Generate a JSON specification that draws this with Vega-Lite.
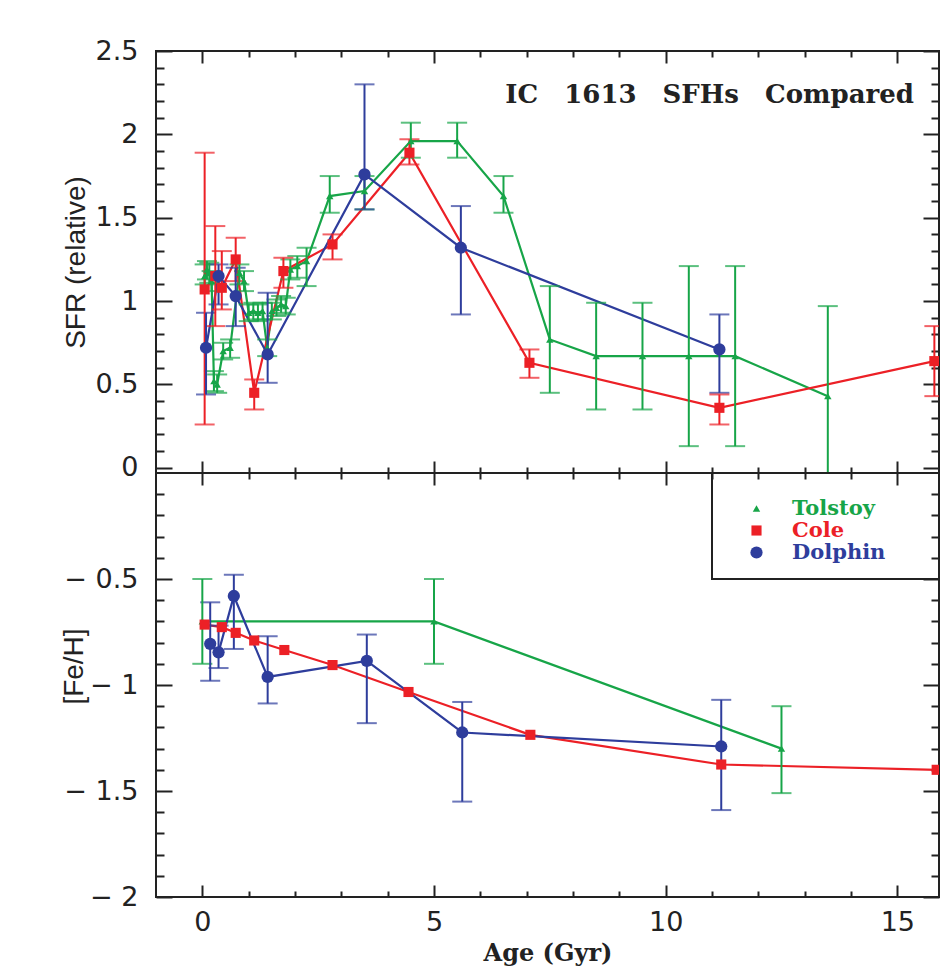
{
  "$schema": "https://vega.github.io/schema/vega-lite/v6.json",
  "autosize": {"type": "pad"},
  "padding": {"left": 59, "top": 36, "right": 8, "bottom": 4},
  "background": "white",
  "spacing": 0,
  "bounds": "flush",
  "config": {
    "view": {"stroke": "#222", "strokeWidth": 2},
    "axis": {
      "domain": false, "grid": false,
      "labelFont": "DejaVu Sans", "labelFontSize": 27, "labelColor": "#222",
      "tickColor": "#222", "tickWidth": 2,
      "titleColor": "#222"
    },
    "legend": {
      "orient": "none", "legendX": 590, "legendY": 25, "title": null, "padding": 0,
      "labelFont": "DejaVu Serif", "labelFontWeight": "bold", "labelFontSize": 21, "labelOffset": 25,
      "symbolSize": 130, "rowPadding": 0, "symbolStrokeWidth": 0, "symbolOpacity": 1
    }
  },
  "datasets": {
    "sfr": [
      {"series": "Tolstoy", "age": 0.05, "v": 1.15, "lo": 1.10, "hi": 1.22},
      {"series": "Tolstoy", "age": 0.10, "v": 1.19, "lo": 1.13, "hi": 1.24},
      {"series": "Tolstoy", "age": 0.15, "v": 1.17, "lo": 1.11, "hi": 1.23},
      {"series": "Tolstoy", "age": 0.20, "v": 1.12, "lo": 1.06, "hi": 1.18},
      {"series": "Tolstoy", "age": 0.25, "v": 0.52, "lo": 0.46, "hi": 0.58},
      {"series": "Tolstoy", "age": 0.32, "v": 0.50, "lo": 0.45, "hi": 0.56},
      {"series": "Tolstoy", "age": 0.45, "v": 0.70, "lo": 0.65, "hi": 0.75},
      {"series": "Tolstoy", "age": 0.60, "v": 0.72, "lo": 0.66, "hi": 0.77},
      {"series": "Tolstoy", "age": 0.80, "v": 1.17, "lo": 1.10, "hi": 1.22},
      {"series": "Tolstoy", "age": 0.90, "v": 1.12, "lo": 1.06, "hi": 1.18},
      {"series": "Tolstoy", "age": 1.00, "v": 0.93, "lo": 0.88, "hi": 0.98},
      {"series": "Tolstoy", "age": 1.10, "v": 0.94, "lo": 0.89, "hi": 0.99},
      {"series": "Tolstoy", "age": 1.20, "v": 0.93, "lo": 0.88, "hi": 0.98},
      {"series": "Tolstoy", "age": 1.30, "v": 0.94, "lo": 0.89, "hi": 0.99},
      {"series": "Tolstoy", "age": 1.40, "v": 0.72, "lo": 0.67, "hi": 0.77},
      {"series": "Tolstoy", "age": 1.50, "v": 0.94, "lo": 0.89, "hi": 0.99},
      {"series": "Tolstoy", "age": 1.60, "v": 0.96, "lo": 0.91, "hi": 1.01},
      {"series": "Tolstoy", "age": 1.70, "v": 0.98, "lo": 0.93, "hi": 1.03},
      {"series": "Tolstoy", "age": 1.80, "v": 0.97, "lo": 0.92, "hi": 1.02},
      {"series": "Tolstoy", "age": 1.90, "v": 1.19, "lo": 1.13, "hi": 1.25},
      {"series": "Tolstoy", "age": 2.05, "v": 1.21, "lo": 1.14, "hi": 1.27},
      {"series": "Tolstoy", "age": 2.25, "v": 1.24, "lo": 1.09, "hi": 1.32},
      {"series": "Tolstoy", "age": 2.75, "v": 1.63, "lo": 1.53, "hi": 1.75},
      {"series": "Tolstoy", "age": 3.50, "v": 1.66, "lo": 1.55, "hi": 1.75},
      {"series": "Tolstoy", "age": 4.50, "v": 1.96, "lo": 1.86, "hi": 2.07},
      {"series": "Tolstoy", "age": 5.50, "v": 1.96, "lo": 1.86, "hi": 2.07},
      {"series": "Tolstoy", "age": 6.50, "v": 1.63, "lo": 1.53, "hi": 1.75},
      {"series": "Tolstoy", "age": 7.50, "v": 0.77, "lo": 0.45, "hi": 1.09},
      {"series": "Tolstoy", "age": 8.50, "v": 0.67, "lo": 0.35, "hi": 0.99},
      {"series": "Tolstoy", "age": 9.50, "v": 0.67, "lo": 0.35, "hi": 0.99},
      {"series": "Tolstoy", "age": 10.50, "v": 0.67, "lo": 0.13, "hi": 1.21},
      {"series": "Tolstoy", "age": 11.50, "v": 0.67, "lo": 0.13, "hi": 1.21},
      {"series": "Tolstoy", "age": 13.50, "v": 0.43, "lo": -0.1, "hi": 0.97},
      {"series": "Cole", "age": 0.05, "v": 1.07, "lo": 0.26, "hi": 1.89},
      {"series": "Cole", "age": 0.28, "v": 1.15, "lo": 0.85, "hi": 1.45},
      {"series": "Cole", "age": 0.42, "v": 1.08, "lo": 0.95, "hi": 1.30},
      {"series": "Cole", "age": 0.72, "v": 1.25, "lo": 1.12, "hi": 1.38},
      {"series": "Cole", "age": 1.12, "v": 0.45, "lo": 0.35, "hi": 0.53},
      {"series": "Cole", "age": 1.75, "v": 1.18, "lo": 1.08, "hi": 1.26},
      {"series": "Cole", "age": 2.81, "v": 1.34, "lo": 1.25, "hi": 1.40},
      {"series": "Cole", "age": 4.47, "v": 1.89, "lo": 1.82, "hi": 1.97},
      {"series": "Cole", "age": 7.06, "v": 0.63, "lo": 0.54, "hi": 0.71},
      {"series": "Cole", "age": 11.16, "v": 0.36, "lo": 0.26, "hi": 0.44},
      {"series": "Cole", "age": 15.8, "v": 0.64, "lo": 0.43, "hi": 0.85},
      {"series": "Dolphin", "age": 0.08, "v": 0.72, "lo": 0.44, "hi": 0.93},
      {"series": "Dolphin", "age": 0.35, "v": 1.15, "lo": 0.98, "hi": 1.22},
      {"series": "Dolphin", "age": 0.72, "v": 1.03, "lo": 0.85, "hi": 1.20},
      {"series": "Dolphin", "age": 1.41, "v": 0.68, "lo": 0.51, "hi": 1.05},
      {"series": "Dolphin", "age": 3.50, "v": 1.76, "lo": 1.55, "hi": 2.30},
      {"series": "Dolphin", "age": 5.58, "v": 1.32, "lo": 0.92, "hi": 1.57},
      {"series": "Dolphin", "age": 11.16, "v": 0.71, "lo": 0.45, "hi": 0.92}
    ],
    "feh": [
      {"series": "Tolstoy", "age": 0.0, "v": -0.70, "lo": -0.90, "hi": -0.50},
      {"series": "Tolstoy", "age": 5.0, "v": -0.70, "lo": -0.90, "hi": -0.50},
      {"series": "Tolstoy", "age": 12.5, "v": -1.30, "lo": -1.51, "hi": -1.10},
      {"series": "Cole", "age": 0.05, "v": -0.715, "lo": null, "hi": null},
      {"series": "Cole", "age": 0.42, "v": -0.727, "lo": null, "hi": null},
      {"series": "Cole", "age": 0.72, "v": -0.754, "lo": null, "hi": null},
      {"series": "Cole", "age": 1.12, "v": -0.79, "lo": null, "hi": null},
      {"series": "Cole", "age": 1.77, "v": -0.835, "lo": null, "hi": null},
      {"series": "Cole", "age": 2.81, "v": -0.906, "lo": null, "hi": null},
      {"series": "Cole", "age": 4.45, "v": -1.033, "lo": null, "hi": null},
      {"series": "Cole", "age": 7.08, "v": -1.235, "lo": null, "hi": null},
      {"series": "Cole", "age": 11.2, "v": -1.375, "lo": null, "hi": null},
      {"series": "Cole", "age": 15.85, "v": -1.40, "lo": null, "hi": null},
      {"series": "Dolphin", "age": 0.17, "v": -0.806, "lo": -0.98, "hi": -0.61},
      {"series": "Dolphin", "age": 0.35, "v": -0.846, "lo": -0.92, "hi": -0.72},
      {"series": "Dolphin", "age": 0.68, "v": -0.58, "lo": -0.83, "hi": -0.48},
      {"series": "Dolphin", "age": 1.41, "v": -0.962, "lo": -1.087, "hi": -0.77},
      {"series": "Dolphin", "age": 3.55, "v": -0.886, "lo": -1.18, "hi": -0.762},
      {"series": "Dolphin", "age": 5.61, "v": -1.224, "lo": -1.55, "hi": -1.08},
      {"series": "Dolphin", "age": 11.2, "v": -1.29, "lo": -1.59, "hi": -1.07}
    ]
  },
  "resolve": {"scale": {"x": "shared", "y": "independent", "color": "independent", "shape": "independent", "size": "independent"}},
  "vconcat": [
    {
      "width": 783,
      "height": 422,
      "data": {"name": "sfr"},
      "title": {
        "text": "IC\u20031613\u2003SFHs\u2003Compared",
        "orient": "top", "anchor": "end", "frame": "group",
        "offset": -92, "dx": -25, "baseline": "alphabetic",
        "font": "DejaVu Serif", "fontWeight": "bold", "fontSize": 26, "color": "#222"
      },
      "resolve": {"axis": {"x": "independent", "y": "independent"}},
      "layer": [
        {
          "mark": {"type": "line", "strokeWidth": 2.2, "clip": true},
          "encoding": {
            "x": {"field": "age", "type": "quantitative",
              "scale": {"domain": [-1, 15.9], "nice": false, "zero": false},
              "axis": {"orient": "bottom", "values": [0,1,2,3,4,5,6,7,8,9,10,11,12,13,14,15], "labels": false, "title": null,
                "tickSize": {"condition": {"test": "datum.value % 5 === 0", "value": -12}, "value": -6}}},
            "y": {"field": "v", "type": "quantitative",
              "scale": {"domain": [-0.031, 2.5], "nice": false, "zero": false},
              "axis": {"orient": "left",
                "values": [0,0.1,0.2,0.3,0.4,0.5,0.6,0.7,0.8,0.9,1,1.1,1.2,1.3,1.4,1.5,1.6,1.7,1.8,1.9,2,2.1,2.2,2.3,2.4,2.5],
                "tickSize": {"condition": {"test": "abs(datum.value*2 - round(datum.value*2)) < 0.001", "value": -16}, "value": -8},
                "labelExpr": "abs(datum.value*2 - round(datum.value*2)) < 0.001 ? format(datum.value, '') : ''",
                "labelPadding": 34,
                "title": "SFR (relative)", "titleFont": "Liberation Sans", "titleFontSize": 28, "titleFontWeight": "normal",
                "titleX": -80, "titleY": 211, "titleAngle": -90, "titleBaseline": "middle", "titleAlign": "center"}},
            "color": {"field": "series", "type": "nominal",
              "scale": {"domain": ["Tolstoy", "Cole", "Dolphin"], "range": ["#17a548", "#ec2026", "#2e3d9c"]},
              "legend": null}
          }
        },
        {
          "mark": {"type": "errorbar", "ticks": true, "size": 20, "thickness": 2, "clip": true},
          "encoding": {
            "x": {"field": "age", "type": "quantitative",
              "axis": {"orient": "top", "values": [0,1,2,3,4,5,6,7,8,9,10,11,12,13,14,15], "labels": false, "title": null,
                "tickSize": {"condition": {"test": "datum.value % 5 === 0", "value": -12}, "value": -6}}},
            "y": {"field": "lo", "type": "quantitative",
              "axis": {"orient": "right",
                "values": [0,0.1,0.2,0.3,0.4,0.5,0.6,0.7,0.8,0.9,1,1.1,1.2,1.3,1.4,1.5,1.6,1.7,1.8,1.9,2,2.1,2.2,2.3,2.4,2.5],
                "tickSize": {"condition": {"test": "abs(datum.value*2 - round(datum.value*2)) < 0.001", "value": -16}, "value": -8},
                "labels": false, "title": null}},
            "y2": {"field": "hi"},
            "color": {"field": "series", "type": "nominal",
              "scale": {"domain": ["Tolstoy", "Cole", "Dolphin"], "range": ["#17a548", "#ec2026", "#2e3d9c"]},
              "legend": null}
          }
        },
        {
          "mark": {"type": "point", "filled": true, "opacity": 1, "clip": true},
          "encoding": {
            "x": {"field": "age", "type": "quantitative", "axis": null},
            "y": {"field": "v", "type": "quantitative", "axis": null},
            "color": {"field": "series", "type": "nominal",
              "scale": {"domain": ["Tolstoy", "Cole", "Dolphin"], "range": ["#17a548", "#ec2026", "#2e3d9c"]},
              "legend": null},
            "shape": {"field": "series", "type": "nominal",
              "scale": {"domain": ["Tolstoy", "Cole", "Dolphin"], "range": ["triangle-up", "square", "circle"]},
              "legend": null},
            "size": {"field": "series", "type": "ordinal",
              "scale": {"domain": ["Tolstoy", "Cole", "Dolphin"], "range": [55, 150, 110]},
              "legend": null}
          }
        }
      ]
    },
    {
      "width": 783,
      "height": 424,
      "data": {"name": "feh"},
      "resolve": {"axis": {"x": "independent", "y": "independent"}},
      "layer": [
        {
          "mark": {"type": "line", "strokeWidth": 2.2, "clip": true},
          "encoding": {
            "x": {"field": "age", "type": "quantitative",
              "scale": {"domain": [-1, 15.9], "nice": false, "zero": false},
              "axis": {"orient": "bottom", "values": [0,1,2,3,4,5,6,7,8,9,10,11,12,13,14,15],
                "tickSize": {"condition": {"test": "datum.value % 5 === 0", "value": -12}, "value": -6},
                "labelExpr": "datum.value % 5 === 0 ? format(datum.value, '') : ''",
                "labelPadding": 24,
                "title": "Age (Gyr)", "titleFont": "DejaVu Serif", "titleFontWeight": "bold", "titleFontSize": 24,
                "titleY": 63, "titleBaseline": "alphabetic"}},
            "y": {"field": "v", "type": "quantitative",
              "scale": {"domain": [-2, 0], "nice": false, "zero": false},
              "axis": {"orient": "left",
                "values": [-2,-1.9,-1.8,-1.7,-1.6,-1.5,-1.4,-1.3,-1.2,-1.1,-1,-0.9,-0.8,-0.7,-0.6,-0.5,-0.4,-0.3,-0.2,-0.1],
                "tickSize": {"condition": {"test": "abs(datum.value*2 - round(datum.value*2)) < 0.001", "value": -16}, "value": -8},
                "labelExpr": "abs(datum.value*2 - round(datum.value*2)) < 0.001 ? '\u2212 ' + format(abs(datum.value), '') : ''",
                "labelPadding": 34,
                "title": "[Fe/H]", "titleFont": "Liberation Sans", "titleFontSize": 28, "titleFontWeight": "normal",
                "titleX": -82, "titleY": 193, "titleAngle": -90, "titleBaseline": "middle", "titleAlign": "center"}},
            "color": {"field": "series", "type": "nominal",
              "scale": {"domain": ["Tolstoy", "Cole", "Dolphin"], "range": ["#17a548", "#ec2026", "#2e3d9c"]}}
          }
        },
        {
          "mark": {"type": "errorbar", "ticks": true, "size": 20, "thickness": 2, "clip": true},
          "encoding": {
            "x": {"field": "age", "type": "quantitative",
              "axis": {"orient": "top", "values": [0,1,2,3,4,5,6,7,8,9,10,11,12,13,14,15], "labels": false, "title": null,
                "tickSize": {"condition": {"test": "datum.value % 5 === 0", "value": -12}, "value": -6}}},
            "y": {"field": "lo", "type": "quantitative",
              "axis": {"orient": "right",
                "values": [-2,-1.9,-1.8,-1.7,-1.6,-1.5,-1.4,-1.3,-1.2,-1.1,-1,-0.9,-0.8,-0.7,-0.6,-0.5,-0.4,-0.3,-0.2,-0.1],
                "tickSize": {"condition": {"test": "abs(datum.value*2 - round(datum.value*2)) < 0.001", "value": -16}, "value": -8},
                "labels": false, "title": null}},
            "y2": {"field": "hi"},
            "color": {"field": "series", "type": "nominal",
              "scale": {"domain": ["Tolstoy", "Cole", "Dolphin"], "range": ["#17a548", "#ec2026", "#2e3d9c"]}}
          }
        },
        {
          "mark": {"type": "point", "filled": true, "opacity": 1, "clip": true},
          "encoding": {
            "x": {"field": "age", "type": "quantitative", "axis": null},
            "y": {"field": "v", "type": "quantitative", "axis": null},
            "color": {"field": "series", "type": "nominal",
              "scale": {"domain": ["Tolstoy", "Cole", "Dolphin"], "range": ["#17a548", "#ec2026", "#2e3d9c"]},
              "legend": {"labelColor": {"expr": "datum.value === 'Tolstoy' ? '#17a548' : datum.value === 'Cole' ? '#ec2026' : '#2e3d9c'"}}},
            "shape": {"field": "series", "type": "nominal",
              "scale": {"domain": ["Tolstoy", "Cole", "Dolphin"], "range": ["triangle-up", "square", "circle"]},
              "legend": {"labelColor": {"expr": "datum.value === 'Tolstoy' ? '#17a548' : datum.value === 'Cole' ? '#ec2026' : '#2e3d9c'"}}},
            "size": {"field": "series", "type": "ordinal",
              "scale": {"domain": ["Tolstoy", "Cole", "Dolphin"], "range": [55, 150, 110]},
              "legend": null}
          }
        },
        {
          "mark": {"type": "rect", "fill": null, "stroke": "#222", "strokeWidth": 1.5, "clip": true},
          "encoding": {
            "x": {"datum": 11, "type": "quantitative", "axis": null},
            "x2": {"datum": 17},
            "y": {"datum": -0.5, "type": "quantitative", "axis": null},
            "y2": {"datum": 0.1}
          }
        }
      ]
    }
  ]
}
